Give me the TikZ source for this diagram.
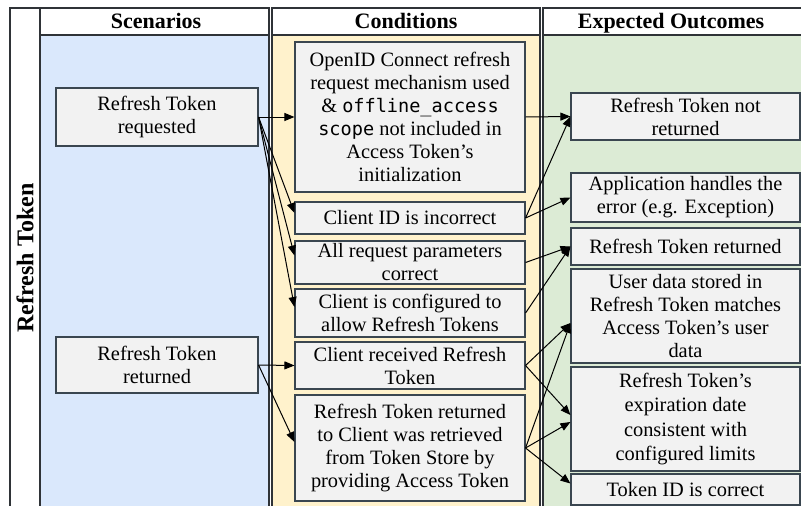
\documentclass[tikz,border=0pt]{standalone}
\usepackage{fontspec}
\setmainfont{Liberation Serif}
\newfontfamily\codefont{DejaVu Sans Mono}[Scale=0.91]
\usetikzlibrary{arrows.meta,calc}

\definecolor{laneline}{HTML}{2F3337}
\definecolor{boxline}{HTML}{3A4650}
\definecolor{boxfill}{HTML}{F2F2F2}
\definecolor{scenfill}{HTML}{DAE8FC}
\definecolor{condfill}{HTML}{FFF2CC}
\definecolor{outfill}{HTML}{DCEBD5}

\tikzset{
  x=1pt, y=-1pt,
  lane/.style={draw=laneline, line width=1.2pt},
  headtext/.style={anchor=base, inner sep=0pt, font=\bfseries\fontsize{22}{24}\selectfont},
  box/.style={draw=boxline, fill=boxfill, line width=1.1pt, align=center,
    inner sep=0pt, font=\fontsize{20.4}{23}\selectfont},
  link/.style={draw=black, line width=1pt,
    -{Triangle[length=10pt,width=8pt]}},
}

\begin{document}
\begin{tikzpicture}
\useasboundingbox (0,0) rectangle (801,506);

% pool label band
\fill[white] (10,8) rectangle (40,512);
\draw[lane] (10,512) -- (10,8) -- (40,8) -- (40,512);
\node[rotate=90, font=\bfseries\fontsize{24}{26}\selectfont] (pool) at (25,258) {Refresh Token};

% lanes: header row and body
\fill[white] (40,8) rectangle (269,35);
\fill[scenfill] (40,35) rectangle (269,512);
\draw[lane] (40,8) rectangle (269,512);
\draw[lane] (40,35) -- (269,35);

\fill[white] (272,8) rectangle (540,35);
\fill[condfill] (272,35) rectangle (540,512);
\draw[lane] (272,8) rectangle (540,512);
\draw[lane] (272,35) -- (540,35);

\fill[white] (543,8) rectangle (803,35);
\fill[outfill] (543,35) rectangle (803,512);
\draw[lane] (543,8) rectangle (803,512);
\draw[lane] (543,35) -- (803,35);

\node[headtext] (hscen) at (156,28.5) {Scenarios};
\node[headtext] (hcond) at (406,28.5) {Conditions};
\node[headtext] (hout) at (671,28.5) {Expected Outcomes};

% scenarios
\node[box, minimum width=202, minimum height=58] (s1) at (157,117) {Refresh Token\\requested};
\node[box, minimum width=202, minimum height=56] (s2) at (157,365) {Refresh Token\\returned};

% conditions
\node[box, minimum width=230, minimum height=150] (c1) at (410,117)
  {OpenID Connect refresh\\request mechanism used\\\& {\codefont offline\_access}\\{\codefont scope} not included in\\Access Token’s\\initialization};
\node[box, minimum width=230, minimum height=32] (c2) at (410,218) {Client ID is incorrect};
\node[box, minimum width=230, minimum height=43] (c3) at (410,262.5) {All request parameters\\correct};
\node[box, minimum width=230, minimum height=48] (c4) at (410,313) {Client is configured to\\allow Refresh Tokens};
\node[box, minimum width=230, minimum height=47] (c5) at (410,365.5) {Client received Refresh\\Token};
\node[box, minimum width=230, minimum height=106] (c6) at (410,448)
  {Refresh Token returned\\to Client was retrieved\\from Token Store by\\providing Access Token};

% expected outcomes
\node[box, minimum width=229, minimum height=47] (o1) at (685.5,116.5) {Refresh Token not\\returned};
\node[box, minimum width=229, minimum height=49] (o2) at (685.5,197.5) {Application handles the\\error (e.g. Exception)};
\node[box, minimum width=229, minimum height=37] (o3) at (685.5,246.5) {Refresh Token returned};
\node[box, minimum width=229, minimum height=94] (o4) at (685.5,316)
  {User data stored in\\Refresh Token matches\\Access Token’s user\\data};
\node[box, minimum width=229, minimum height=104, font=\fontsize{20.4}{24.5}\selectfont] (o5) at (685.5,419)
  {Refresh Token’s\\expiration date\\consistent with\\configured limits};
\node[box, minimum width=229, minimum height=31] (o6) at (685.5,489.5) {Token ID is correct};

% scenario -> condition links
\draw[link] (s1.east) -- (c1.west);
\draw[link] (s1.east) -- ($(c2.west)+(0,-5)$);
\draw[link] (s1.east) -- ($(c3.west)+(0,-7)$);
\draw[link] (s1.east) -- ($(c4.west)+(0,-6)$);
\draw[link] (s2.east) -- (c5.west);
\draw[link] (s2.east) -- ($(c6.west)+(0,-6)$);

% condition -> outcome links
\draw[link] (c1.east) -- (o1.west);
\draw[link] (c2.east) -- (o1.west);
\draw[link] (c2.east) -- (o2.west);
\draw[link] (c3.east) -- (o3.west);
\draw[link] (c4.east) -- (o3.west);
\draw[link] (c5.east) -- ($(o4.west)+(0,7)$);
\draw[link] (c5.east) -- ($(o5.west)+(0,-4)$);
\draw[link] (c6.east) -- ($(o4.west)+(0,7)$);
\draw[link] (c6.east) -- ($(o5.west)+(0,3)$);
\draw[link] (c6.east) -- ($(o6.west)+(0,-6)$);
\end{tikzpicture}
\end{document}
